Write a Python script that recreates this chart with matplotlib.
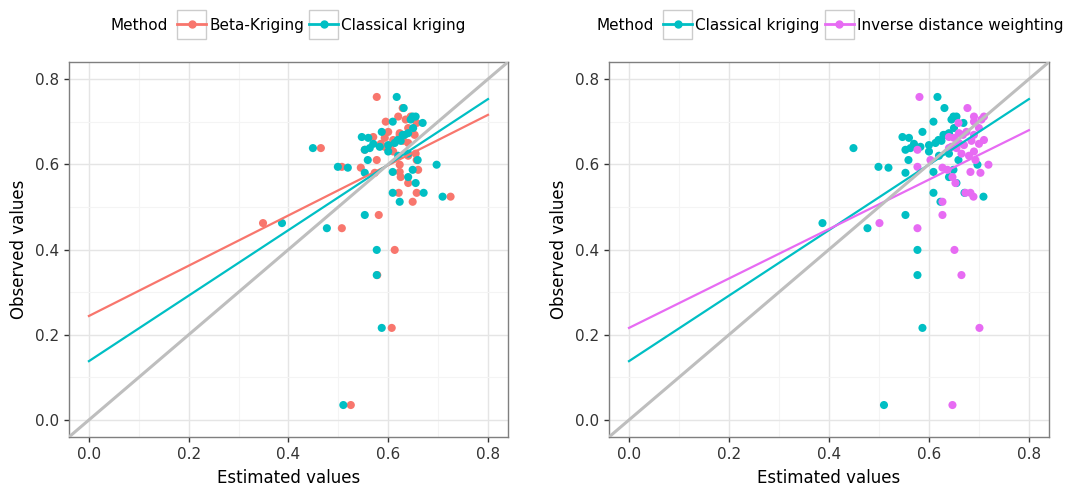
import numpy as np
import matplotlib
matplotlib.use("Agg")
from matplotlib import pyplot as plt
from matplotlib.lines import Line2D
from matplotlib.patches import Rectangle
from matplotlib.legend_handler import HandlerLine2D

# observed values (shared) and estimates from each method
observed = [0.035, 0.216, 0.340, 0.399, 0.450, 0.462, 0.481, 0.512, 0.524, 0.533,
            0.533, 0.556, 0.570, 0.580, 0.582, 0.587, 0.592, 0.594, 0.599, 0.610,
            0.610, 0.620, 0.625, 0.630, 0.634, 0.638, 0.638, 0.641, 0.645, 0.648,
            0.650, 0.655, 0.657, 0.662, 0.664, 0.669, 0.669, 0.673, 0.676, 0.685,
            0.697, 0.700, 0.705, 0.712, 0.712, 0.732, 0.758]
est_ck = [0.510, 0.587, 0.577, 0.577, 0.477, 0.387, 0.553, 0.623, 0.709, 0.609,
          0.671, 0.655, 0.640, 0.553, 0.609, 0.649, 0.519, 0.499, 0.697, 0.559,
          0.659, 0.620, 0.640, 0.600, 0.553, 0.449, 0.563, 0.583, 0.600, 0.570,
          0.613, 0.625, 0.619, 0.560, 0.547, 0.629, 0.633, 0.640, 0.587, 0.650,
          0.669, 0.609, 0.645, 0.649, 0.655, 0.631, 0.617]
est_bk = [0.525, 0.607, 0.578, 0.613, 0.507, 0.349, 0.581, 0.649, 0.725, 0.621,
          0.657, 0.640, 0.625, 0.573, 0.623, 0.660, 0.545, 0.507, 0.623, 0.577,
          0.657, 0.640, 0.655, 0.610, 0.553, 0.465, 0.599, 0.593, 0.605, 0.585,
          0.640, 0.630, 0.610, 0.593, 0.570, 0.623, 0.653, 0.623, 0.600, 0.640,
          0.657, 0.595, 0.635, 0.620, 0.645, 0.629, 0.577]
est_idw = [0.647, 0.701, 0.665, 0.651, 0.577, 0.501, 0.627, 0.627, 0.689, 0.673,
           0.683, 0.653, 0.647, 0.703, 0.683, 0.637, 0.627, 0.577, 0.719, 0.603,
           0.693, 0.680, 0.665, 0.690, 0.577, 0.640, 0.655, 0.645, 0.670, 0.700,
           0.660, 0.685, 0.710, 0.650, 0.640, 0.668, 0.690, 0.660, 0.675, 0.700,
           0.659, 0.690, 0.705, 0.690, 0.710, 0.677, 0.581]

# fitted regression lines (end points)
fit_x = [0.0, 0.8]
fit_ck = [0.138, 0.753]
fit_bk = [0.244, 0.716]
fit_idw = [0.216, 0.680]

col_bk = '#F8766D'
col_ck = '#00BFC4'
col_idw = '#E76BF3'


class KeyBox(HandlerLine2D):
    def create_artists(self, legend, orig_handle, xdescent, ydescent,
                       width, height, fontsize, trans):
        arts = super().create_artists(legend, orig_handle, xdescent, ydescent,
                                      width, height, fontsize, trans)
        # key line sits a bit lower, box centred on it
        yc = (height - ydescent) / 2 - 3.0
        for a in arts:
            a.set_ydata([yc] * len(a.get_xdata()))
        rect = Rectangle((-xdescent, yc - height / 2), width, height, fill=False,
                         edgecolor='#cccccc', lw=1.0, transform=trans)
        return [rect] + list(arts)


def panel(ax, series):
    for est, fit, col, name in series:
        ax.scatter(est, observed, s=34, color=col, edgecolors='none', zorder=3)
    for est, fit, col, name in series:
        ax.plot(fit_x, fit, color=col, lw=1.6, zorder=4)
    ax.axline((0, 0), slope=1, color='#bebebe', lw=2.2, zorder=5)
    ax.set_xlim(-0.04, 0.84)
    ax.set_ylim(-0.04, 0.84)
    ax.set_xticks([0.0, 0.2, 0.4, 0.6, 0.8])
    ax.set_yticks([0.0, 0.2, 0.4, 0.6, 0.8])
    ax.set_xticks([0.1, 0.3, 0.5, 0.7], minor=True)
    ax.set_yticks([0.1, 0.3, 0.5, 0.7], minor=True)
    ax.grid(which='major', color='#e5e5e5', lw=1.0, zorder=0)
    ax.grid(which='minor', color='#f4f4f4', lw=0.8, zorder=0)
    ax.set_axisbelow(True)
    ax.tick_params(which='major', length=3.5, width=1, color='#333333',
                   labelsize=11, labelcolor='#333333')
    ax.tick_params(which='minor', length=0)
    for sp in ax.spines.values():
        sp.set_color('#7f7f7f')
        sp.set_linewidth(1.0)
    ax.set_xlabel('Estimated values', fontsize=12, labelpad=5)
    ax.set_ylabel('Observed values', fontsize=12, labelpad=5)
    handles = [Line2D([], [], color=col, lw=2, marker='o', markersize=5)
               for est, fit, col, name in series]
    labels = [name for est, fit, col, name in series]
    return handles, labels


fig = plt.figure(figsize=(10.66, 4.91), dpi=100)
ax1 = fig.add_axes([0.0647, 0.110, 0.4118, 0.7637])
ax2 = fig.add_axes([0.5713, 0.110, 0.4127, 0.7637])

h1, l1 = panel(ax1, [(est_bk, fit_bk, col_bk, 'Beta-Kriging'),
                     (est_ck, fit_ck, col_ck, 'Classical kriging')])
h2, l2 = panel(ax2, [(est_ck, fit_ck, col_ck, 'Classical kriging'),
                     (est_idw, fit_idw, col_idw, 'Inverse distance weighting')])

for h, l, xt, xl in [(h1, l1, 110, 177), (h2, l2, 597, 663)]:
    fig.text(xt / 1066, 1 - 25 / 491, 'Method', fontsize=11, va='center', ha='left')
    leg = fig.legend(h, l, loc='center left', bbox_to_anchor=(xl / 1066, 1 - 25 / 491),
                     ncol=2, frameon=False, fontsize=11, handlelength=1.9,
                     handleheight=2.56, handletextpad=0.2, columnspacing=0.33,
                     borderpad=0, borderaxespad=0,
                     handler_map={Line2D: KeyBox()})

fig.savefig('out.png', dpi=100)
